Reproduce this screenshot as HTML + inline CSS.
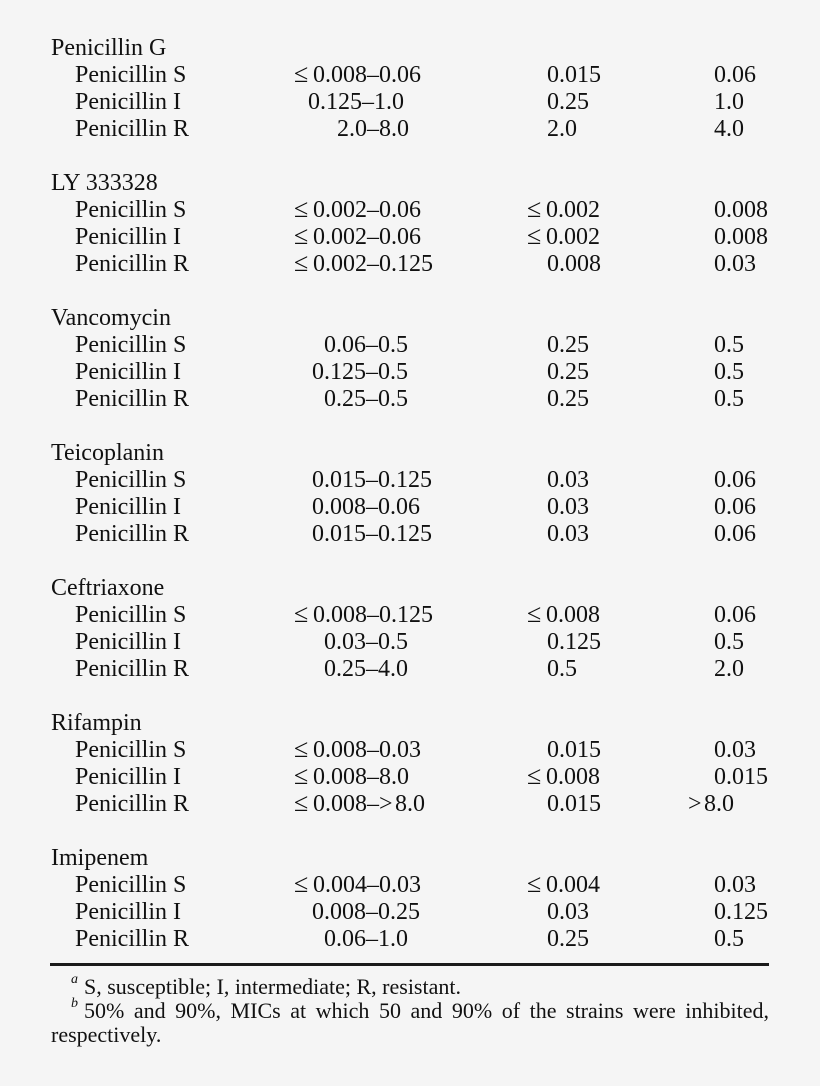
<!DOCTYPE html>
<html>
<head>
<meta charset="utf-8">
<style>
  html, body { margin:0; padding:0; }
  body {
    width:820px; height:1086px; overflow:hidden;
    background:#f5f5f5; color:#111;
    font-family:"Liberation Serif", "Times New Roman", serif;
    position:relative;
  }
  .g { position:absolute; left:0; width:820px; height:108px; }
  .r { position:relative; height:27px; }
  .t { position:absolute; top:0; font-size:24px; line-height:27px; white-space:nowrap; }
  .h { left:51px; }
  .s { left:75px; }
  .le { display:inline-block; width:19px; font-size:26px; line-height:20px; }
  .gt { display:inline-block; width:16px; }
  .rule { position:absolute; left:50px; width:719px; top:963px; height:3px; background:#1a1a1a; }
  .fn { position:absolute; font-size:22px; line-height:25px; white-space:nowrap; }
  .sup { position:absolute; font-size:14px; font-style:italic; line-height:14px; }
  .just { text-align:justify; text-align-last:justify; white-space:normal; }
</style>
</head>
<body>

<div class="g" style="top:35.4px">
  <div class="r"><span class="t h">Penicillin G</span></div>
  <div class="r"><span class="t s">Penicillin S</span><span class="t" style="left:294px"><span class="le">≤</span>0.008–0.06</span><span class="t" style="left:547px">0.015</span><span class="t" style="left:714px">0.06</span></div>
  <div class="r"><span class="t s">Penicillin I</span><span class="t" style="left:308px">0.125–1.0</span><span class="t" style="left:547px">0.25</span><span class="t" style="left:714px">1.0</span></div>
  <div class="r"><span class="t s">Penicillin R</span><span class="t" style="left:337px">2.0–8.0</span><span class="t" style="left:547px">2.0</span><span class="t" style="left:714px">4.0</span></div>
</div>

<div class="g" style="top:170.4px">
  <div class="r"><span class="t h">LY 333328</span></div>
  <div class="r"><span class="t s">Penicillin S</span><span class="t" style="left:294px"><span class="le">≤</span>0.002–0.06</span><span class="t" style="left:527px"><span class="le">≤</span>0.002</span><span class="t" style="left:714px">0.008</span></div>
  <div class="r"><span class="t s">Penicillin I</span><span class="t" style="left:294px"><span class="le">≤</span>0.002–0.06</span><span class="t" style="left:527px"><span class="le">≤</span>0.002</span><span class="t" style="left:714px">0.008</span></div>
  <div class="r"><span class="t s">Penicillin R</span><span class="t" style="left:294px"><span class="le">≤</span>0.002–0.125</span><span class="t" style="left:547px">0.008</span><span class="t" style="left:714px">0.03</span></div>
</div>

<div class="g" style="top:305.4px">
  <div class="r"><span class="t h">Vancomycin</span></div>
  <div class="r"><span class="t s">Penicillin S</span><span class="t" style="left:324px">0.06–0.5</span><span class="t" style="left:547px">0.25</span><span class="t" style="left:714px">0.5</span></div>
  <div class="r"><span class="t s">Penicillin I</span><span class="t" style="left:312px">0.125–0.5</span><span class="t" style="left:547px">0.25</span><span class="t" style="left:714px">0.5</span></div>
  <div class="r"><span class="t s">Penicillin R</span><span class="t" style="left:324px">0.25–0.5</span><span class="t" style="left:547px">0.25</span><span class="t" style="left:714px">0.5</span></div>
</div>

<div class="g" style="top:440.4px">
  <div class="r"><span class="t h">Teicoplanin</span></div>
  <div class="r"><span class="t s">Penicillin S</span><span class="t" style="left:312px">0.015–0.125</span><span class="t" style="left:547px">0.03</span><span class="t" style="left:714px">0.06</span></div>
  <div class="r"><span class="t s">Penicillin I</span><span class="t" style="left:312px">0.008–0.06</span><span class="t" style="left:547px">0.03</span><span class="t" style="left:714px">0.06</span></div>
  <div class="r"><span class="t s">Penicillin R</span><span class="t" style="left:312px">0.015–0.125</span><span class="t" style="left:547px">0.03</span><span class="t" style="left:714px">0.06</span></div>
</div>

<div class="g" style="top:575.4px">
  <div class="r"><span class="t h">Ceftriaxone</span></div>
  <div class="r"><span class="t s">Penicillin S</span><span class="t" style="left:294px"><span class="le">≤</span>0.008–0.125</span><span class="t" style="left:527px"><span class="le">≤</span>0.008</span><span class="t" style="left:714px">0.06</span></div>
  <div class="r"><span class="t s">Penicillin I</span><span class="t" style="left:324px">0.03–0.5</span><span class="t" style="left:547px">0.125</span><span class="t" style="left:714px">0.5</span></div>
  <div class="r"><span class="t s">Penicillin R</span><span class="t" style="left:324px">0.25–4.0</span><span class="t" style="left:547px">0.5</span><span class="t" style="left:714px">2.0</span></div>
</div>

<div class="g" style="top:710.4px">
  <div class="r"><span class="t h">Rifampin</span></div>
  <div class="r"><span class="t s">Penicillin S</span><span class="t" style="left:294px"><span class="le">≤</span>0.008–0.03</span><span class="t" style="left:547px">0.015</span><span class="t" style="left:714px">0.03</span></div>
  <div class="r"><span class="t s">Penicillin I</span><span class="t" style="left:294px"><span class="le">≤</span>0.008–8.0</span><span class="t" style="left:527px"><span class="le">≤</span>0.008</span><span class="t" style="left:714px">0.015</span></div>
  <div class="r"><span class="t s">Penicillin R</span><span class="t" style="left:294px"><span class="le">≤</span>0.008–<span class="gt">&gt;</span>8.0</span><span class="t" style="left:547px">0.015</span><span class="t" style="left:688px"><span class="gt">&gt;</span>8.0</span></div>
</div>

<div class="g" style="top:845.4px">
  <div class="r"><span class="t h">Imipenem</span></div>
  <div class="r"><span class="t s">Penicillin S</span><span class="t" style="left:294px"><span class="le">≤</span>0.004–0.03</span><span class="t" style="left:527px"><span class="le">≤</span>0.004</span><span class="t" style="left:714px">0.03</span></div>
  <div class="r"><span class="t s">Penicillin I</span><span class="t" style="left:312px">0.008–0.25</span><span class="t" style="left:547px">0.03</span><span class="t" style="left:714px">0.125</span></div>
  <div class="r"><span class="t s">Penicillin R</span><span class="t" style="left:324px">0.06–1.0</span><span class="t" style="left:547px">0.25</span><span class="t" style="left:714px">0.5</span></div>
</div>

<div class="rule"></div>

<span class="sup" style="left:71px;top:973px">a</span>
<div class="fn" style="left:84px;top:974px">S, susceptible; I, intermediate; R, resistant.</div>

<span class="sup" style="left:71px;top:997px">b</span>
<div class="fn just" style="left:84px;top:997.5px;width:685px">50% and 90%, MICs at which 50 and 90% of the strains were inhibited,</div>

<div class="fn" style="left:51px;top:1022px">respectively.</div>

</body>
</html>
